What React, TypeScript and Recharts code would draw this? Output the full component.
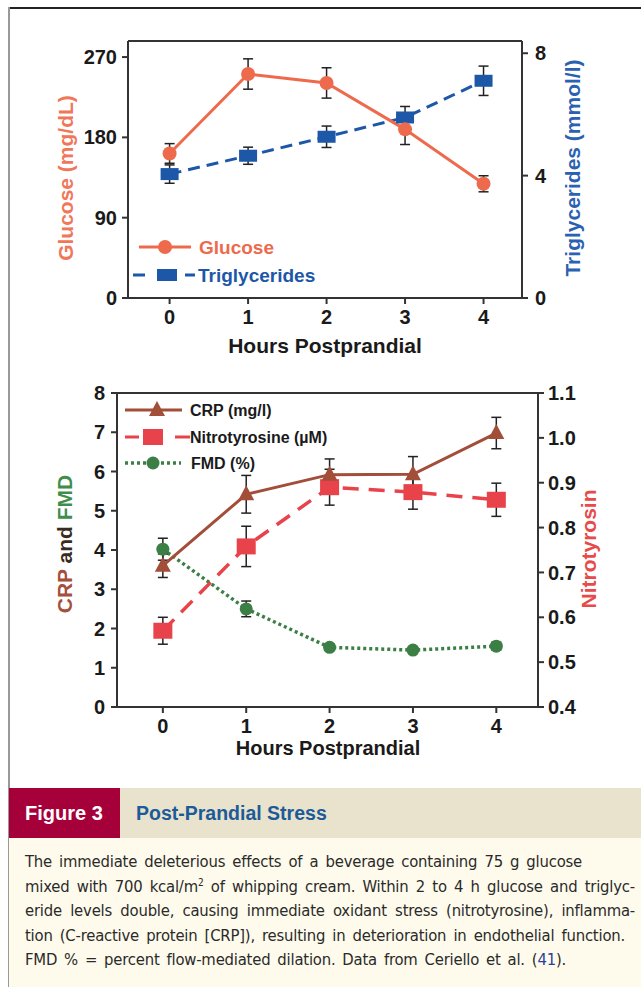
import React from "react";
import { LineChart, Line, XAxis, YAxis, ErrorBar, Legend, ReferenceLine } from "recharts";

// hours after the meal
const hours = [0, 1, 2, 3, 4];

// top panel
const glucose = [162, 251, 241, 189, 128];
const glucoseErr = [11, 17, 17, 17, 9];
const triglycerides = [4.05, 4.65, 5.27, 5.9, 7.1];
const triglyceridesErr = [0.3, 0.28, 0.35, 0.36, 0.48];
const glucoseTicks = [0, 90, 180, 270];
const trigTicks = [0, 4, 8];

// bottom panel
const crp = [3.6, 5.42, 5.92, 5.93, 6.98];
const crpErr = [0.3, 0.48, 0.4, 0.45, 0.4];
const nitrotyrosine = [0.57, 0.758, 0.89, 0.879, 0.862];
const nitrotyrosineErr = [0.03, 0.045, 0.04, 0.038, 0.037];
const fmd = [4.02, 2.5, 1.52, 1.45, 1.55];
const fmdErr = [0.28, 0.2, 0.08, 0.08, 0.1];
const crpTicks = [0, 1, 2, 3, 4, 5, 6, 7, 8];
const nitroTicks = [0.4, 0.5, 0.6, 0.7, 0.8, 0.9, 1.0, 1.1];

const topData = hours.map((h, i) => ({
  hour: h,
  glucose: glucose[i],
  glucoseErr: glucoseErr[i],
  trig: triglycerides[i],
  trigErr: triglyceridesErr[i],
}));

const bottomData = hours.map((h, i) => ({
  hour: h,
  crp: crp[i],
  crpErr: crpErr[i],
  nitro: nitrotyrosine[i],
  nitroErr: nitrotyrosineErr[i],
  fmd: fmd[i],
  fmdErr: fmdErr[i],
}));

const FONT = "'Liberation Sans', Arial, Helvetica, sans-serif";
const COND = "'DejaVu Sans Condensed', 'Liberation Sans', sans-serif";
const AXIS = "#333";
const ORANGE = "#EE6A4C";
const BLUE = "#1D57A7";
const BROWN = "#A24E38";
const RED = "#E8424B";
const GREEN = "#3B7F45";

const tickStyle = { fill: "#1a1a1a", fontSize: 20, fontWeight: 700, fontFamily: FONT };
const axisLine = { stroke: AXIS, strokeWidth: 2 };

// axis titles drawn at fixed spots (props injected by the Label are ignored)
function Title(props: any) {
  const { px, py, rot = 0, fs = 21, parts } = props;
  return (
    <text
      x={px}
      y={py}
      transform={rot ? `rotate(${rot}, ${px}, ${py})` : undefined}
      textAnchor="middle"
      dominantBaseline="central"
      fontFamily={FONT}
      fontWeight={700}
      fontSize={fs}
      style={{ whiteSpace: "pre" }}
    >
      {parts.map((p: any, i: number) => (
        <tspan key={i} fill={p.color}>
          {p.text}
        </tspan>
      ))}
    </text>
  );
}

const squareDot = (w: number, h: number, color: string) => (p: any) =>
  <rect key={`sq-${color}-${p.index}`} x={p.cx - w / 2} y={p.cy - h / 2} width={w} height={h} fill={color} />;

const triangleDot = (p: any) => (
  <path
    key={`tri-${p.index}`}
    d={`M${p.cx},${p.cy - 9} L${p.cx + 8},${p.cy + 6} L${p.cx - 8},${p.cy + 6} Z`}
    fill={BROWN}
  />
);

function TopLegend() {
  return (
    <svg width={220} height={60} style={{ display: "block", overflow: "visible" }}>
      <line x1={19} y1={15} x2={71} y2={15} stroke={ORANGE} strokeWidth={3} />
      <circle cx={45} cy={15} r={7} fill={ORANGE} />
      <text x={79} y={15} dominantBaseline="central" fill={ORANGE} fontFamily={FONT} fontWeight={700} fontSize={19}>
        Glucose
      </text>
      <line x1={13} y1={43} x2={25} y2={43} stroke={BLUE} strokeWidth={3} />
      <rect x={37} y={37} width={20} height={12} fill={BLUE} />
      <line x1={65} y1={43} x2={75} y2={43} stroke={BLUE} strokeWidth={3} />
      <text x={78} y={43} dominantBaseline="central" fill={BLUE} fontFamily={FONT} fontWeight={700} fontSize={19}>
        Triglycerides
      </text>
    </svg>
  );
}

function BottomLegend() {
  return (
    <svg width={260} height={80} style={{ display: "block", overflow: "visible" }}>
      <line x1={10} y1={15} x2={67} y2={15} stroke={BROWN} strokeWidth={3} />
      <path d="M42,6 L50,21 L34,21 Z" fill={BROWN} />
      <text x={75} y={15} dominantBaseline="central" fill="#1a1a1a" fontFamily={FONT} fontWeight={700} fontSize={16}>
        CRP (mg/l)
      </text>
      <line x1={10} y1={42} x2={24} y2={42} stroke={RED} strokeWidth={3} />
      <rect x={28} y={34} width={20} height={16} fill={RED} />
      <line x1={60} y1={42} x2={75} y2={42} stroke={RED} strokeWidth={3} />
      <text x={75} y={42} dominantBaseline="central" fill="#1a1a1a" fontFamily={FONT} fontWeight={700} fontSize={16}>
        Nitrotyrosine (µM)
      </text>
      <line x1={10} y1={68} x2={66} y2={68} stroke={GREEN} strokeWidth={3.5} strokeDasharray="3 3" />
      <circle cx={38} cy={68} r={6.5} fill={GREEN} />
      <text x={76} y={68} dominantBaseline="central" fill="#1a1a1a" fontFamily={FONT} fontWeight={700} fontSize={16}>
        FMD (%)
      </text>
    </svg>
  );
}

function TopChart() {
  return (
    <LineChart width={641} height={360} data={topData} margin={{ top: 41, left: 68, right: 59, bottom: 32 }}>
      <XAxis
        type="number"
        dataKey="hour"
        domain={[-0.53, 4.49]}
        ticks={hours}
        allowDataOverflow
        height={30}
        tickSize={6}
        tickMargin={6}
        tick={tickStyle}
        axisLine={axisLine}
        tickLine={axisLine}
        label={<Title px={325} py={345} parts={[{ text: "Hours Postprandial", color: "#1a1a1a" }]} />}
      />
      <YAxis
        yAxisId="g"
        domain={[0, 288]}
        ticks={glucoseTicks}
        allowDataOverflow
        width={60}
        tickSize={6}
        tickMargin={5}
        tick={tickStyle}
        axisLine={axisLine}
        tickLine={axisLine}
        label={<Title px={65} py={178} rot={-90} parts={[{ text: "Glucose (mg/dL)", color: "#F0775A" }]} />}
      />
      <YAxis
        yAxisId="t"
        orientation="right"
        domain={[0, 8.4]}
        ticks={trigTicks}
        allowDataOverflow
        width={60}
        tickSize={6}
        tickMargin={7}
        tick={tickStyle}
        axisLine={axisLine}
        tickLine={axisLine}
        label={<Title px={572} py={168} rot={-90} parts={[{ text: "Triglycerides (mmol/l)", color: "#2A61B1" }]} />}
      />
      <ReferenceLine yAxisId="g" y={288} stroke={AXIS} strokeWidth={2} />
      <Line
        yAxisId="t"
        dataKey="trig"
        stroke={BLUE}
        strokeWidth={3}
        strokeDasharray="12 7"
        dot={squareDot(18, 12, BLUE)}
        isAnimationActive={false}
      >
        <ErrorBar dataKey="trigErr" width={5} stroke="#222" strokeWidth={1.5} direction="y" />
      </Line>
      <Line
        yAxisId="g"
        dataKey="glucose"
        stroke={ORANGE}
        strokeWidth={3}
        dot={{ r: 7, fill: ORANGE, stroke: ORANGE, strokeWidth: 0 }}
        isAnimationActive={false}
      >
        <ErrorBar dataKey="glucoseErr" width={5} stroke="#222" strokeWidth={1.5} direction="y" />
      </Line>
      {/* zero-height wrapper so the legend takes no room from the plot */}
      <Legend
        content={() => <TopLegend />}
        wrapperStyle={{ position: "absolute", left: 120, top: 232, width: 220, height: 0, overflow: "visible" }}
      />
    </LineChart>
  );
}

function BottomChart() {
  return (
    <LineChart width={641} height={420} data={bottomData} margin={{ top: 33, left: 57, right: 43, bottom: 43 }}>
      <XAxis
        type="number"
        dataKey="hour"
        domain={[-0.55, 4.5]}
        ticks={hours}
        allowDataOverflow
        height={30}
        tickSize={6}
        tickMargin={6}
        tick={tickStyle}
        axisLine={axisLine}
        tickLine={axisLine}
        label={<Title px={328} py={388} fs={20} parts={[{ text: "Hours Postprandial", color: "#1a1a1a" }]} />}
      />
      <YAxis
        yAxisId="c"
        domain={[0, 8]}
        ticks={crpTicks}
        allowDataOverflow
        width={60}
        tickSize={6}
        tickMargin={6}
        tick={tickStyle}
        axisLine={axisLine}
        tickLine={axisLine}
        label={
          <Title
            px={64}
            py={184}
            rot={-90}
            parts={[
              { text: "CRP", color: "#A4503C" },
              { text: " and ", color: "#3a2a20" },
              { text: "FMD", color: "#3F8E4B" },
            ]}
          />
        }
      />
      <YAxis
        yAxisId="n"
        orientation="right"
        domain={[0.4, 1.1]}
        ticks={nitroTicks}
        tickFormatter={(v: number) => v.toFixed(1)}
        allowDataOverflow
        width={60}
        tickSize={6}
        tickMargin={4}
        tick={tickStyle}
        axisLine={axisLine}
        tickLine={axisLine}
        label={<Title px={588} py={189} rot={-90} parts={[{ text: "Nitrotyrosin", color: "#E84A4A" }]} />}
      />
      <ReferenceLine yAxisId="c" y={8} stroke={AXIS} strokeWidth={2} />
      <Line
        yAxisId="c"
        dataKey="fmd"
        stroke={GREEN}
        strokeWidth={3.5}
        strokeDasharray="3 3"
        dot={{ r: 6.5, fill: GREEN, stroke: GREEN, strokeWidth: 0 }}
        isAnimationActive={false}
      >
        <ErrorBar dataKey="fmdErr" width={5} stroke="#222" strokeWidth={1.5} direction="y" />
      </Line>
      <Line
        yAxisId="n"
        dataKey="nitro"
        stroke={RED}
        strokeWidth={3.5}
        strokeDasharray="16 10"
        dot={squareDot(19, 16, RED)}
        isAnimationActive={false}
      >
        <ErrorBar dataKey="nitroErr" width={5} stroke="#222" strokeWidth={1.5} direction="y" />
      </Line>
      <Line
        yAxisId="c"
        dataKey="crp"
        stroke={BROWN}
        strokeWidth={3}
        dot={triangleDot}
        isAnimationActive={false}
      >
        <ErrorBar dataKey="crpErr" width={5} stroke="#222" strokeWidth={1.5} direction="y" />
      </Line>
      <Legend
        content={() => <BottomLegend />}
        wrapperStyle={{ position: "absolute", left: 115, top: 35, width: 260, height: 0, overflow: "visible" }}
      />
    </LineChart>
  );
}

// caption, one entry per printed line; line widths follow the reference
const captionLines = [
  "The immediate deleterious effects of a beverage containing 75 g glucose",
  "mixed with 700 kcal/m",
  "eride levels double, causing immediate oxidant stress (nitrotyrosine), inflamma-",
  "tion (C-reactive protein [CRP]), resulting in deterioration in endothelial function.",
];

export default function App() {
  const line = (w: number): React.CSSProperties => ({
    width: w,
    height: 24.5,
    lineHeight: "24.5px",
    whiteSpace: "nowrap",
    textAlign: "justify",
    textAlignLast: "justify",
  });
  return (
    <div style={{ position: "absolute", left: 0, top: 0, width: 641, height: 987, background: "#fff", overflow: "hidden" }}>
      <div style={{ position: "absolute", left: 8, top: 7, width: 633, height: 2, background: "#222" }} />
      <div style={{ position: "absolute", left: 8, top: 7, width: 1.5, height: 980, background: "#999" }} />
      <div style={{ position: "absolute", left: 0, top: 0 }}>
        <TopChart />
      </div>
      <div style={{ position: "absolute", left: 0, top: 360 }}>
        <BottomChart />
      </div>
      <div
        style={{
          position: "absolute", left: 9, top: 788, width: 111, height: 50, background: "#A6003A",
          color: "#fff", fontFamily: FONT, fontWeight: 700, fontSize: 20, lineHeight: "50px", paddingLeft: 16,
          boxSizing: "border-box", whiteSpace: "nowrap",
        }}
      >
        Figure 3
      </div>
      <div
        style={{
          position: "absolute", left: 120, top: 788, width: 521, height: 50, background: "#E9E2CC",
          color: "#1C5B99", fontFamily: FONT, fontWeight: 700, fontSize: 19.5, lineHeight: "50px", paddingLeft: 16,
          boxSizing: "border-box", whiteSpace: "nowrap",
        }}
      >
        Post-Prandial Stress
      </div>
      <div
        style={{
          position: "absolute", left: 9, top: 838, width: 632, height: 149, background: "#FEFBEC",
          color: "#2a2a2a", fontFamily: COND, fontSize: 16.5, letterSpacing: -0.2, paddingTop: 12, paddingLeft: 16,
          boxSizing: "border-box",
        }}
      >
        <div style={line(557)}>{captionLines[0]}</div>
        <div style={line(610)}>
          {captionLines[1]}
          <sup style={{ fontSize: 10, lineHeight: 0 }}>2</sup> of whipping cream. Within 2 to 4 h glucose and triglyc-
        </div>
        <div style={line(610)}>{captionLines[2]}</div>
        <div style={line(600)}>{captionLines[3]}</div>
        <div style={line(541)}>
          FMD % = percent flow-mediated dilation. Data from Ceriello et al. (<span style={{ color: "#2B3F9E" }}>41</span>).
        </div>
      </div>
    </div>
  );
}
